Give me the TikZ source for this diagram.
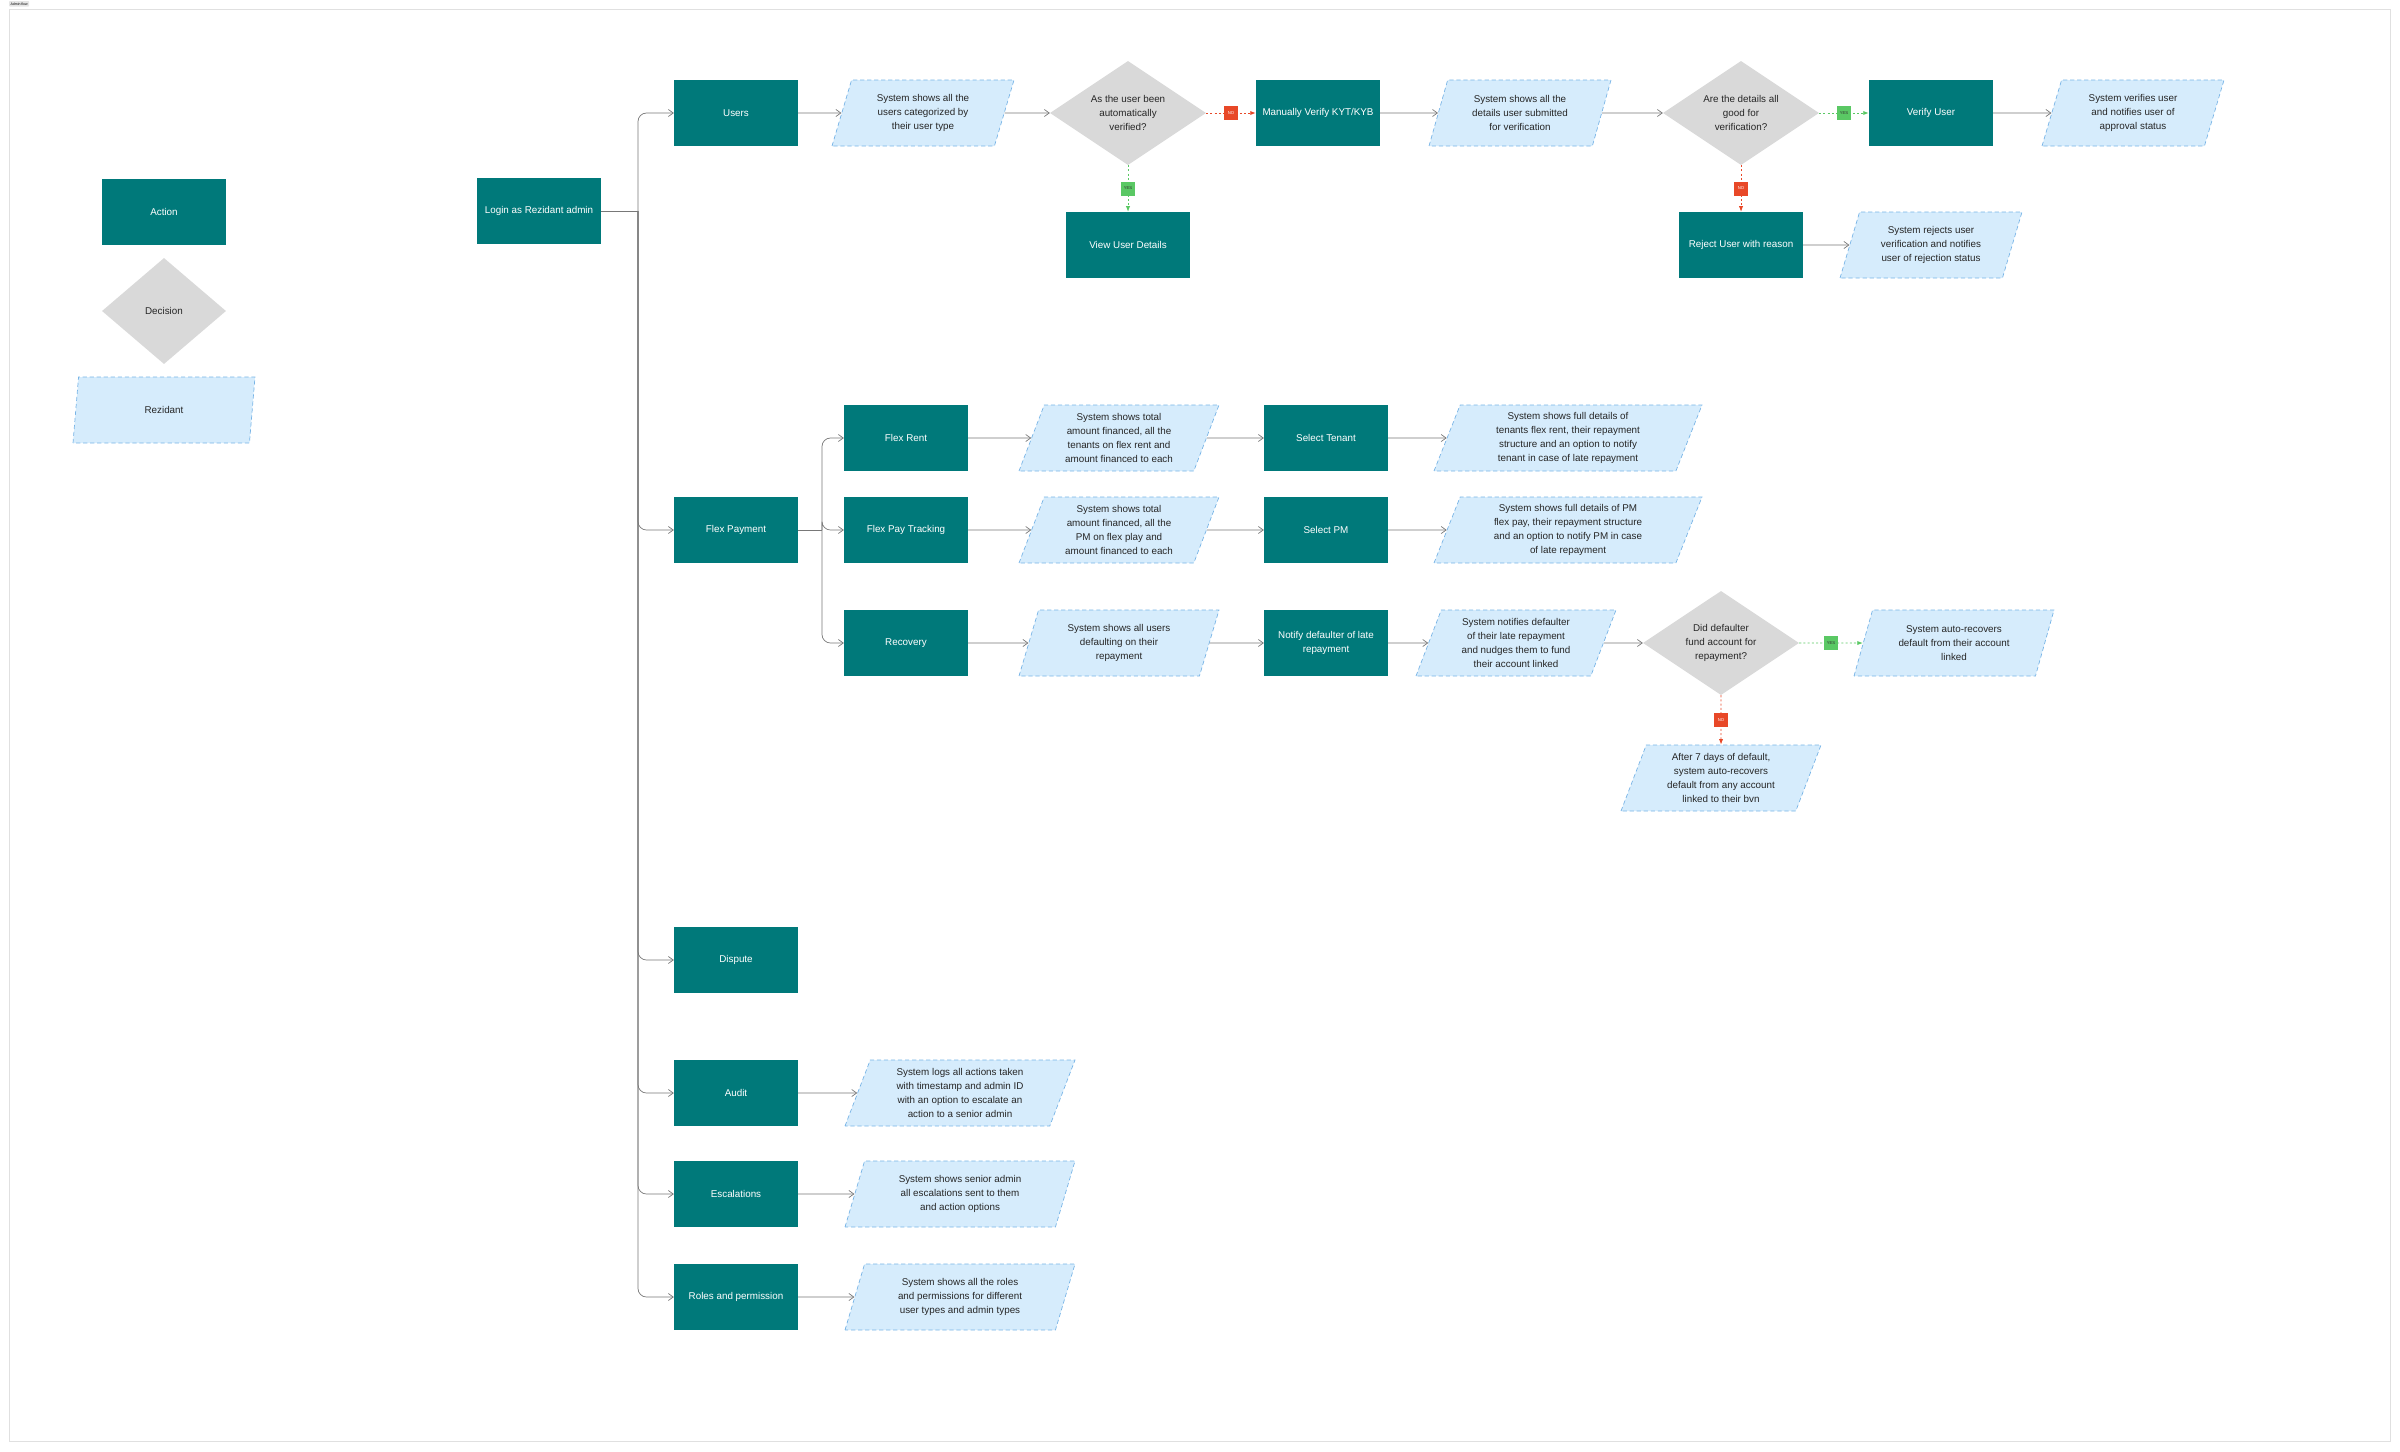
\documentclass[tikz,border=0pt]{standalone}
\usepackage{fontspec}
\setmainfont{Liberation Sans}
\definecolor{rzTeal}{RGB}{0,121,122}
\definecolor{rzGrey}{RGB}{217,217,217}
\definecolor{rzBlue}{RGB}{214,236,252}
\definecolor{rzBlueLine}{RGB}{120,180,230}
\definecolor{rzRed}{RGB}{232,72,40}
\definecolor{rzGreen}{RGB}{90,200,100}
\definecolor{rzLine}{RGB}{120,120,120}
\usetikzlibrary{arrows.meta}
\usetikzlibrary{calc,shapes,positioning}
\tikzset{
    action/.style={fill=rzTeal, minimum height=3.3cm, minimum width=6.2cm, text=white, align=center},
    decision/.style={diamond, fill=rzGrey, minimum width=7.8cm, minimum height=5.2cm, aspect=1.5, inner sep=0pt, align=center, text=black!85},
    io/.style={trapezium, trapezium left angle=65, trapezium right angle=115, trapezium stretches body=true,
        fill=rzBlue, draw=rzBlueLine, dashed, dash pattern=on 6pt off 4pt, line width=1pt,
        minimum height=3.3cm, minimum width=#1, align=center, text=black!85},
    io/.default=9.1cm,
    flow/.style={-{Straight Barb[length=7pt,width=10pt]}, draw=rzLine, line width=1pt},
    noFlow/.style={-{Latex[length=8pt]}, draw=rzRed, dashed, line width=1.2pt},
    yesFlow/.style={-{Latex[length=8pt]}, draw=rzGreen, dashed, line width=1.2pt},
    noTag/.style={fill=rzRed, text=white, font=\fontsize{6}{7}\selectfont, inner sep=3pt, minimum size=0.7cm},
    yesTag/.style={fill=rzGreen, text=black!80, font=\fontsize{6}{7}\selectfont, inner sep=3pt, minimum size=0.7cm},
}
\begin{document}
\begin{tikzpicture}[x=0.05cm,y=-0.05cm,font=\fontsize{14}{20}\selectfont]
    \useasboundingbox (0,0) rectangle (2400,1451);
    \draw[black!12, line width=1pt] (9,9) rectangle (2390,1441);
    \node[fill=black!10, rounded corners=1pt, font=\fontsize{5}{6}\selectfont, inner sep=2pt, anchor=north west] (title) at (9,1) {Admin flow};

    % legend
    \node[action] (legAction) at (164,212) {Action};
    \node[decision, minimum width=6.2cm, minimum height=5.3cm, aspect=1.2] (legDecision) at (164,311) {Decision};
    \node[io=9.1cm] (legIo) at (164,410) {Rezidant};

    % main menu
    \node[action] (login) at (539,211) {Login as Rezidant admin};
    \node[action] (users) at (736,113) {Users};
    \node[action] (flex) at (736,530) {Flex Payment};
    \node[action] (dispute) at (736,960) {Dispute};
    \node[action] (audit) at (736,1093) {Audit};
    \node[action] (escal) at (736,1194) {Escalations};
    \node[action] (roles) at (736,1297) {Roles and permission};

    \coordinate (trunk) at (638,211);
    \draw[draw=rzLine, line width=1pt] (login.east) -- (trunk);
    \foreach \n in {users,flex,dispute,audit,escal,roles}
        \draw[flow, rounded corners=12pt] (trunk) |- (\n.west);

    % users row
    \node[io] (usersList) at (923,113) {System shows all the\\users categorized by\\their user type};
    \node[decision] (autoCheck) at (1128,113) {As the user been\\automatically\\verified?};
    \node[action] (manual) at (1318,113) {Manually Verify KYT/KYB};
    \node[io] (details) at (1520,113) {System shows all the\\details user submitted\\for verification};
    \node[decision] (goodCheck) at (1741,113) {Are the details all\\good for\\verification?};
    \node[action] (verify) at (1931,113) {Verify User};
    \node[io] (approved) at (2133,113) {System verifies user\\and notifies user of\\approval status};
    \node[action] (viewUser) at (1128,245) {View User Details};
    \node[action] (reject) at (1741,245) {Reject User with reason};
    \node[io] (rejected) at (1931,245) {System rejects user\\verification and notifies\\user of rejection status};

    \draw[flow] (users) -- (usersList);
    \draw[flow] (usersList) -- (autoCheck);
    \draw[noFlow] (autoCheck) -- (manual) node[noTag, midway, solid] {NO};
    \draw[yesFlow] (autoCheck) -- (viewUser) node[yesTag, midway, solid] {YES};
    \draw[flow] (manual) -- (details);
    \draw[flow] (details) -- (goodCheck);
    \draw[yesFlow] (goodCheck) -- (verify) node[yesTag, midway, solid] {YES};
    \draw[noFlow] (goodCheck) -- (reject) node[noTag, midway, solid] {NO};
    \draw[flow] (verify) -- (approved);
    \draw[flow] (reject) -- (rejected);

    % flex payment rows
    \node[action] (flexRent) at (906,438) {Flex Rent};
    \node[action] (flexPay) at (906,530) {Flex Pay Tracking};
    \node[action] (recovery) at (906,643) {Recovery};
    \coordinate (flexTrunk) at (822,530);
    \draw[draw=rzLine, line width=1pt] (flex.east) -- (flexTrunk);
    \foreach \n in {flexRent,flexPay,recovery}
        \draw[flow, rounded corners=12pt] (flexTrunk) |- (\n.west);

    \node[io=10cm] (rentTotal) at (1119,438) {System shows total\\amount financed, all the\\tenants on flex rent and\\amount financed to each};
    \node[io=10cm] (payTotal) at (1119,530) {System shows total\\amount financed, all the\\PM on flex play and\\amount financed to each};
    \node[io=10cm] (defaulting) at (1119,643) {System shows all users\\defaulting on their\\repayment};
    \node[action] (selTenant) at (1326,438) {Select Tenant};
    \node[action] (selPM) at (1326,530) {Select PM};
    \node[action] (notify) at (1326,643) {Notify defaulter of late\\repayment};
    \node[io=13.4cm] (tenantFull) at (1568,438) {System shows full details of\\tenants flex rent, their repayment\\structure and an option to notify\\tenant in case of late repayment};
    \node[io=13.4cm] (pmFull) at (1568,530) {System shows full details of PM\\flex pay, their repayment structure\\and an option to notify PM in case\\of late repayment};
    \node[io=10cm] (nudge) at (1516,643) {System notifies defaulter\\of their late repayment\\and nudges them to fund\\their account linked};
    \node[decision] (fundCheck) at (1721,643) {Did defaulter\\fund account for\\repayment?};
    \node[io=10cm] (autoRec) at (1954,643) {System auto-recovers\\default from their account\\linked};
    \node[io=10cm] (bvnRec) at (1721,778) {After 7 days of default,\\system auto-recovers\\default from any account\\linked to their bvn};

    \draw[flow] (flexRent) -- (rentTotal);
    \draw[flow] (rentTotal) -- (selTenant);
    \draw[flow] (selTenant) -- (tenantFull);
    \draw[flow] (flexPay) -- (payTotal);
    \draw[flow] (payTotal) -- (selPM);
    \draw[flow] (selPM) -- (pmFull);
    \draw[flow] (recovery) -- (defaulting);
    \draw[flow] (defaulting) -- (notify);
    \draw[flow] (notify) -- (nudge);
    \draw[flow] (nudge) -- (fundCheck);
    \draw[yesFlow] (fundCheck) -- (autoRec) node[yesTag, midway, solid] {YES};
    \draw[noFlow] (fundCheck) -- (bvnRec) node[noTag, midway, solid] {NO};

    % audit, escalations, roles
    \node[io=11.5cm] (auditLog) at (960,1093) {System logs all actions taken\\with timestamp and admin ID\\with an option to escalate an\\action to a senior admin};
    \node[io=11.5cm] (escalList) at (960,1194) {System shows senior admin\\all escalations sent to them\\and action options};
    \node[io=11.5cm] (rolesList) at (960,1297) {System shows all the roles\\and permissions for different\\user types and admin types};
    \draw[flow] (audit) -- (auditLog);
    \draw[flow] (escal) -- (escalList);
    \draw[flow] (roles) -- (rolesList);
\end{tikzpicture}
\end{document}
